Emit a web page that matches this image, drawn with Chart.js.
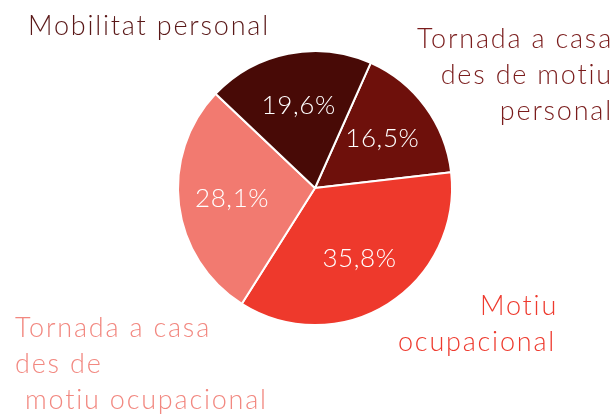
<!DOCTYPE html>
<html>
<head>
<meta charset="utf-8">
<script src="https://cdn.jsdelivr.net/npm/chart.js@4"></script>
<style>
  html, body { margin: 0; padding: 0; background: #fff; }
  #wrap { width: 616px; height: 414px; }
</style>
</head>
<body>
<div id="wrap"><canvas id="pie" width="616" height="414"></canvas></div>
<script>
'use strict';

// ── DATA ──
const categories = [
  'Tornada a casa des de motiu personal',
  'Motiu ocupacional',
  'Tornada a casa des de motiu ocupacional',
  'Mobilitat personal',
];
const shares = [16.5, 35.8, 28.1, 19.6];
const sliceColors = ['#6e100b', '#ee392c', '#f27a70', '#480a06'];

// outside labels: split lines, colour and where they sit
const outsideLabels = [
  { lines: ['Tornada a casa', 'des de motiu', 'personal'], color: '#7a1c1c', x: 613, y: 48, align: 'right' },
  { lines: ['Motiu', 'ocupacional'], color: '#ee3a2e', x: [480, 398], y: 315, align: 'left' },
  { lines: ['Tornada a casa', 'des de', 'motiu ocupacional'], color: '#f28880', x: [15, 15, 25], y: 337, align: 'left' },
  { lines: ['Mobilitat personal'], color: '#5a1818', x: 28, y: 35, align: 'left' },
];

const FONT = "'Lato', 'Noto Sans', sans-serif";

// ── PERCENT LABELS INSIDE SLICES ──
const percentPlugin = {
  id: 'percentLabels',
  afterDatasetsDraw(chart) {
    const ctx = chart.ctx;
    const meta = chart.getDatasetMeta(0);
    ctx.save();
    ctx.fillStyle = '#ffffff';
    ctx.font = `300 26px ${FONT}`;
    ctx.letterSpacing = '0.6px';
    ctx.textAlign = 'center';
    ctx.textBaseline = 'middle';
    meta.data.forEach((arc, i) => {
      const p = arc.getProps(['x', 'y', 'startAngle', 'endAngle', 'outerRadius'], true);
      const mid = (p.startAngle + p.endAngle) / 2;
      const r = p.outerRadius * 0.61;
      const txt = shares[i].toFixed(1).replace('.', ',') + '%';
      ctx.fillText(txt, p.x + Math.cos(mid) * r, p.y + Math.sin(mid) * r);
    });
    ctx.restore();
  },
};

// ── CATEGORY LABELS OUTSIDE ──
const outsidePlugin = {
  id: 'outsideLabels',
  afterDraw(chart) {
    const ctx = chart.ctx;
    ctx.save();
    ctx.font = `300 27px ${FONT}`;
    ctx.letterSpacing = '1.8px';
    ctx.textBaseline = 'alphabetic';
    outsideLabels.forEach(l => {
      ctx.fillStyle = l.color;
      ctx.textAlign = l.align;
      l.lines.forEach((line, j) => {
        const x = Array.isArray(l.x) ? l.x[j] : l.x;
        ctx.fillText(line, x, l.y + j * 36);
      });
    });
    ctx.restore();
  },
};

new Chart(document.getElementById('pie'), {
  type: 'pie',
  data: {
    labels: categories,
    datasets: [{
      data: shares,
      backgroundColor: sliceColors,
      borderColor: '#ffffff',
      borderWidth: 2,
    }],
  },
  options: {
    responsive: false,
    animation: false,
    rotation: 24,
    layout: { padding: { top: 50, bottom: 88, left: 177, right: 163 } },
    plugins: { legend: { display: false }, tooltip: { enabled: false } },
  },
  plugins: [percentPlugin, outsidePlugin],
});
</script>
</body>
</html>
